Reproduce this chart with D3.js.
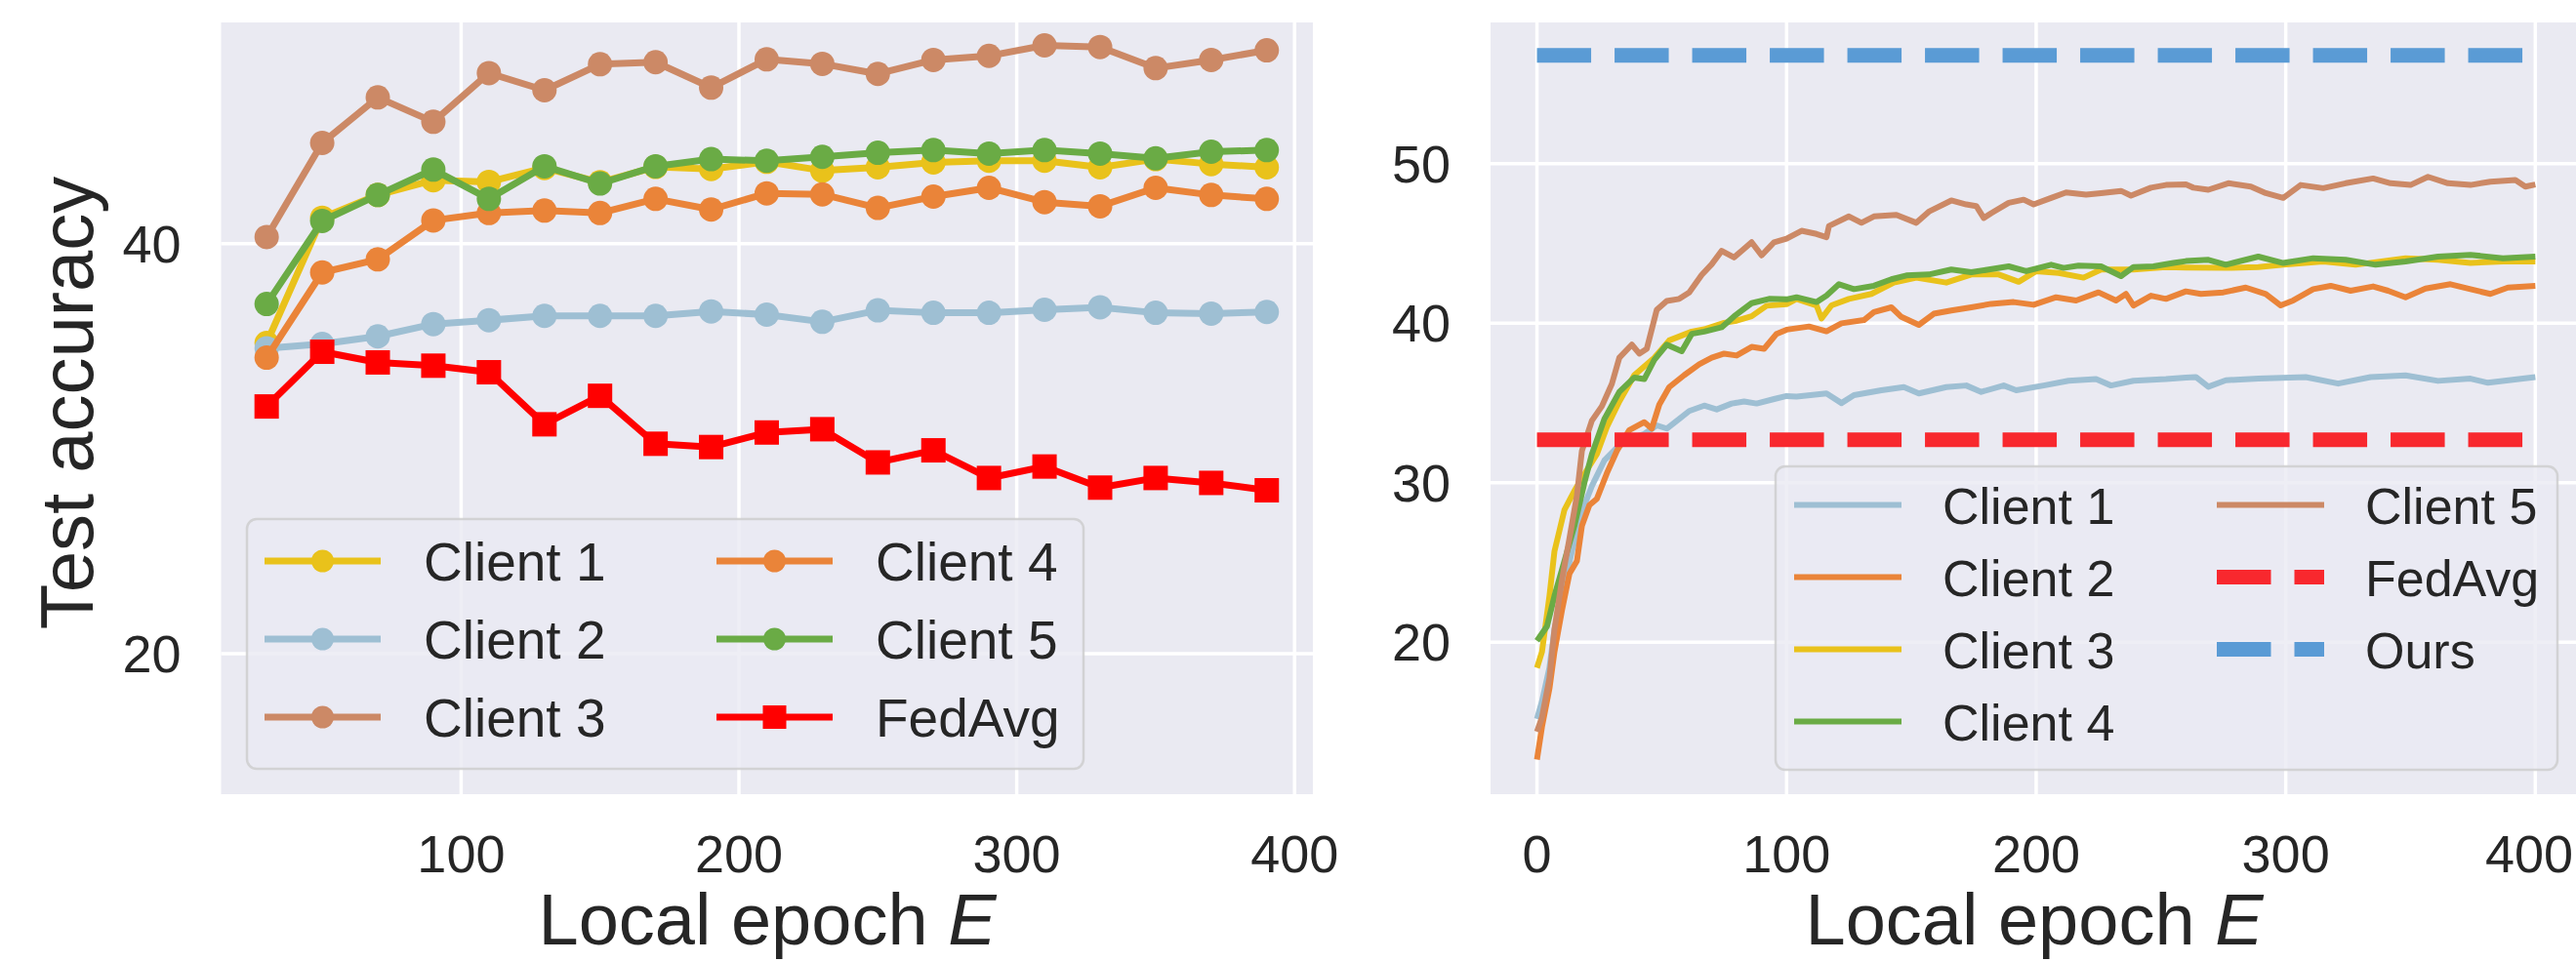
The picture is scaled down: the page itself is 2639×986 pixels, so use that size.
<!DOCTYPE html>
<html>
<head>
<meta charset="utf-8">
<script src="https://cdn.jsdelivr.net/npm/d3@7"></script>
<style>
body{margin:0;background:#fff;}
text{font-family:"Liberation Sans",Arial,sans-serif;fill:#262626;}
</style>
</head>
<body>
<svg id="chart" width="2639" height="986"></svg>
<script>
// ---- left panel data (accuracy at each local epoch E) ----
var leftEpochs = [30,50,70,90,110,130,150,170,190,210,230,250,270,290,310,330,350,370,390];
var leftClient1 = [35.16,41.27,42.38,43.1,43.02,43.7,43.0,43.75,43.65,44.0,43.57,43.73,43.97,44.05,44.05,43.73,44.13,43.89,43.73];
var leftClient2 = [34.9,35.11,35.48,36.08,36.27,36.48,36.48,36.48,36.7,36.54,36.19,36.75,36.63,36.63,36.78,36.9,36.63,36.59,36.67];
var leftClient3 = [40.33,44.92,47.14,45.95,48.33,47.49,48.76,48.86,47.62,49.0,48.78,48.29,48.97,49.17,49.68,49.6,48.57,48.97,49.44];
var leftClient4 = [34.44,38.6,39.24,41.14,41.5,41.62,41.5,42.19,41.67,42.46,42.41,41.75,42.3,42.73,42.03,41.83,42.73,42.38,42.19];
var leftClient5 = [37.06,41.11,42.38,43.62,42.19,43.78,42.94,43.78,44.13,44.05,44.24,44.44,44.57,44.4,44.57,44.4,44.17,44.49,44.57];
var leftFedAvg  = [32.06,34.73,34.21,34.05,33.73,31.19,32.58,30.24,30.08,30.79,30.95,29.33,29.92,28.57,29.13,28.1,28.57,28.33,27.97];
var leftXTicks = [100,200,300,400];
var leftYTicks = [20,40];

// ---- right panel data: [epoch, accuracy] ----
var rightClient1 = [[0,15.2],[2,16.3],[5,18.4],[7,20.8],[10,22.9],[14,25.7],[18,28.2],[22,29.8],[27,31.4],[32,32.2],[37,32.75],[43,33.06],[48,33.6],[52,33.4],[57,34.0],[61,34.5],[67,34.84],[72,34.6],[78,34.97],[83,35.1],[88,34.97],[95,35.25],[100,35.44],[104,35.41],[116,35.6],[122,35.0],[127,35.5],[138,35.8],[147,36.0],[153,35.6],[164,36.0],[172,36.1],[178,35.7],[187,36.1],[192,35.8],[203,36.1],[213,36.4],[224,36.5],[230,36.1],[239,36.4],[252,36.5],[260,36.6],[264,36.63],[269,36.02],[276,36.43],[289,36.53],[308,36.63],[321,36.22],[334,36.63],[348,36.73],[361,36.39],[374,36.53],[381,36.27],[400,36.63]];
var rightClient2 = [[0,12.65],[2,14.7],[5,17.1],[7,19.4],[10,22.0],[13,24.3],[16,25.1],[18,27.3],[21,28.6],[24,29.0],[28,30.6],[32,32.0],[37,33.3],[43,33.8],[46,33.4],[49,34.9],[53,36.0],[59,36.75],[65,37.43],[70,37.84],[75,38.1],[80,37.98],[86,38.52],[91,38.4],[96,39.34],[100,39.6],[109,39.8],[116,39.5],[122,40.0],[131,40.2],[135,40.7],[142,41.0],[146,40.4],[153,39.9],[159,40.6],[166,40.8],[174,41.0],[182,41.22],[191,41.33],[199,41.16],[208,41.63],[216,41.43],[225,41.94],[232,41.43],[236,41.84],[239,41.12],[246,41.73],[252,41.53],[260,42.0],[266,41.84],[275,41.94],[284,42.24],[292,41.84],[298,41.12],[303,41.43],[311,42.14],[318,42.35],[326,42.04],[335,42.31],[341,42.04],[348,41.63],[356,42.18],[366,42.45],[374,42.14],[382,41.84],[389,42.24],[400,42.35]];
var rightClient3 = [[0,18.4],[2,19.4],[5,22.9],[7,25.7],[11,28.3],[15,29.5],[20,30.8],[24,31.8],[28,33.5],[33,35.1],[39,36.75],[47,37.84],[53,38.93],[62,39.48],[67,39.62],[75,40.03],[80,40.16],[86,40.44],[92,41.1],[100,41.2],[104,41.53],[112,41.12],[114,40.3],[118,41.12],[125,41.53],[134,41.84],[143,42.55],[152,42.86],[164,42.55],[174,43.06],[185,43.06],[193,42.6],[200,43.27],[209,43.16],[219,42.86],[226,43.37],[239,43.37],[252,43.53],[260,43.5],[276,43.47],[289,43.53],[299,43.67],[315,43.88],[328,43.67],[348,44.08],[361,43.98],[374,43.78],[387,43.88],[400,43.88]];
var rightClient4 = [[0,20.1],[4,21.0],[7,22.9],[11,25.1],[15,27.3],[19,30.0],[22,31.8],[27,34.0],[33,35.7],[39,36.6],[43,36.5],[47,37.7],[52,38.66],[58,38.25],[62,39.34],[67,39.48],[74,39.75],[79,40.44],[86,41.26],[93,41.53],[100,41.5],[104,41.63],[112,41.33],[116,41.73],[121,42.45],[127,42.14],[135,42.35],[142,42.76],[148,43.0],[157,43.06],[166,43.37],[174,43.2],[181,43.37],[189,43.57],[196,43.27],[206,43.67],[211,43.47],[217,43.61],[226,43.57],[234,42.96],[239,43.53],[247,43.57],[255,43.78],[260,43.9],[269,43.98],[276,43.67],[289,44.18],[299,43.78],[311,44.08],[324,43.98],[336,43.67],[348,43.88],[361,44.18],[374,44.29],[387,44.08],[400,44.18]];
var rightClient5 = [[0,14.4],[2,15.3],[5,17.76],[7,20.8],[10,23.9],[13,26.5],[16,29.2],[18,32.0],[22,33.9],[26,34.8],[30,36.2],[33,37.84],[38,38.66],[41,38.1],[44,38.4],[48,40.85],[52,41.4],[57,41.53],[61,41.94],[66,43.03],[70,43.7],[74,44.54],[79,44.13],[86,45.08],[90,44.26],[95,45.08],[100,45.3],[106,45.8],[112,45.6],[116,45.4],[117,46.1],[125,46.7],[130,46.3],[135,46.7],[144,46.8],[152,46.3],[157,47.0],[166,47.7],[172,47.45],[176,47.35],[179,46.6],[182,46.9],[189,47.55],[195,47.75],[199,47.45],[206,47.86],[212,48.2],[220,48.06],[226,48.16],[234,48.3],[238,48.0],[246,48.5],[252,48.67],[260,48.7],[263,48.5],[269,48.37],[277,48.78],[286,48.57],[292,48.16],[299,47.86],[306,48.67],[315,48.47],[324,48.78],[335,49.08],[342,48.78],[350,48.67],[357,49.18],[365,48.78],[374,48.67],[382,48.88],[392,48.98],[396,48.57],[400,48.7]];
var rightFedAvg = [[0,32.7],[400,32.7]];
var rightOurs = [[0,56.8],[400,56.8]];
var rightXTicks = [0,100,200,300,400];
var rightYTicks = [20,30,40,50];

var colors = {
	lightblue:"#9ebfd3", orange:"#ea8439", yellow:"#e9c21b",
	green:"#6aab45", brown:"#cc8966", red:"#ff0000",
	dashRed:"#f8282e", dashBlue:"#5a9bd5"
};

var W = 2639, H = 986;
var svg = d3.select("#chart");
svg.append("rect").attr("width",W).attr("height",H).attr("fill","#fff");

function panel(o){
	var g = svg.append("g");
	var x = o.x, y = o.y;
	var r = x.range(), ry = y.range();
	g.append("rect").attr("x",r[0]).attr("y",ry[1]).attr("width",r[1]-r[0]).attr("height",ry[0]-ry[1]).attr("fill","#eaeaf2");
	// grid
	g.selectAll(".gx").data(o.xTicks).enter().append("line")
		.attr("x1",function(d){return x(d);}).attr("x2",function(d){return x(d);})
		.attr("y1",ry[1]).attr("y2",ry[0]).attr("stroke","#fff").attr("stroke-width",3.5);
	g.selectAll(".gy").data(o.yTicks).enter().append("line")
		.attr("x1",r[0]).attr("x2",r[1])
		.attr("y1",function(d){return y(d);}).attr("y2",function(d){return y(d);})
		.attr("stroke","#fff").attr("stroke-width",3.5);
	// tick labels (kept inside the picture at the right edge)
	g.selectAll(".tx").data(o.xTicks).enter().append("text")
		.attr("x",function(d){return Math.min(x(d), W-48);}).attr("y",894)
		.attr("text-anchor","middle").attr("font-size",54).text(function(d){return d;});
	g.selectAll(".ty").data(o.yTicks).enter().append("text")
		.attr("x",r[0]-41).attr("y",function(d){return y(d)+19;})
		.attr("text-anchor","end").attr("font-size",54).text(function(d){return d;});
	// x label
	var xl = g.append("text").attr("x",o.labelX).attr("y",968)
		.attr("text-anchor","middle").attr("font-size",74);
	xl.append("tspan").text("Local epoch ");
	xl.append("tspan").attr("font-style","italic").text("E");
	return g;
}

// ---- left panel ----
var xL = d3.scaleLinear().domain([13.6,406.6]).range([226.5,1345]);
var yL = d3.scaleLinear().domain([13.14,50.8]).range([814,23]);
var gL = panel({x:xL,y:yL,xTicks:leftXTicks,yTicks:leftYTicks,labelX:786});
gL.append("text").attr("transform","translate(95,413) rotate(-90)")
	.attr("text-anchor","middle").attr("font-size",76).text("Test accuracy");

var leftSeries = [
	{name:"Client 1",vals:leftClient1,color:colors.yellow,marker:"o"},
	{name:"Client 2",vals:leftClient2,color:colors.lightblue,marker:"o"},
	{name:"Client 3",vals:leftClient3,color:colors.brown,marker:"o"},
	{name:"Client 4",vals:leftClient4,color:colors.orange,marker:"o"},
	{name:"Client 5",vals:leftClient5,color:colors.green,marker:"o"},
	{name:"FedAvg",vals:leftFedAvg,color:colors.red,marker:"s"}
];
var lineL = d3.line().x(function(d,i){return xL(leftEpochs[i]);}).y(function(d){return yL(d);});
leftSeries.forEach(function(s){
	gL.append("path").attr("d",lineL(s.vals)).attr("fill","none").attr("stroke",s.color)
		.attr("stroke-width",7).attr("stroke-linejoin","round");
	if(s.marker=="o"){
		gL.selectAll(null).data(s.vals).enter().append("circle")
			.attr("cx",function(d,i){return xL(leftEpochs[i]);}).attr("cy",function(d){return yL(d);})
			.attr("r",12.5).attr("fill",s.color);
	}else{
		gL.selectAll(null).data(s.vals).enter().append("rect")
			.attr("x",function(d,i){return xL(leftEpochs[i])-12.5;}).attr("y",function(d){return yL(d)-12.5;})
			.attr("width",25).attr("height",25).attr("fill",s.color);
	}
});

// left legend
var legL = gL.append("g");
legL.append("rect").attr("x",253).attr("y",532).attr("width",857).attr("height",256).attr("rx",10)
	.attr("fill","#eaeaf2").attr("fill-opacity",0.8).attr("stroke","#cccccc").attr("stroke-opacity",0.8).attr("stroke-width",2.5);
leftSeries.forEach(function(s,i){
	var cx = [271,734][Math.floor(i/3)], cy = 575 + 80*(i%3);
	legL.append("line").attr("x1",cx).attr("x2",cx+119).attr("y1",cy).attr("y2",cy)
		.attr("stroke",s.color).attr("stroke-width",7);
	if(s.marker=="o") legL.append("circle").attr("cx",cx+59.5).attr("cy",cy).attr("r",11.5).attr("fill",s.color);
	else legL.append("rect").attr("x",cx+47.5).attr("y",cy-12).attr("width",24).attr("height",24).attr("fill",s.color);
	legL.append("text").attr("x",cx+163).attr("y",cy+20).attr("font-size",55).text(s.name);
});

// ---- right panel ----
var xR = d3.scaleLinear().domain([-18.6,418.6]).range([1527,2644.9]);
var yR = d3.scaleLinear().domain([10.48,58.86]).range([814,23]);
var gR = panel({x:xR,y:yR,xTicks:rightXTicks,yTicks:rightYTicks,labelX:2084});

var rightSeries = [
	{name:"Client 1",vals:rightClient1,color:colors.lightblue},
	{name:"Client 2",vals:rightClient2,color:colors.orange},
	{name:"Client 3",vals:rightClient3,color:colors.yellow},
	{name:"Client 4",vals:rightClient4,color:colors.green},
	{name:"Client 5",vals:rightClient5,color:colors.brown},
	{name:"FedAvg",vals:rightFedAvg,color:colors.dashRed,dash:true},
	{name:"Ours",vals:rightOurs,color:colors.dashBlue,dash:true}
];
var lineR = d3.line().x(function(d){return xR(d[0]);}).y(function(d){return yR(d[1]);});
rightSeries.forEach(function(s){
	var p = gR.append("path").attr("d",lineR(s.vals)).attr("fill","none").attr("stroke",s.color)
		.attr("stroke-linejoin","round");
	if(s.dash) p.attr("stroke-width",15).attr("stroke-dasharray","55.5,24");
	else p.attr("stroke-width",6);
});

var legR = gR.append("g");
legR.append("rect").attr("x",1819).attr("y",478).attr("width",801).attr("height",311).attr("rx",10)
	.attr("fill","#eaeaf2").attr("fill-opacity",0.8).attr("stroke","#cccccc").attr("stroke-opacity",0.8).attr("stroke-width",2.5);
rightSeries.forEach(function(s,i){
	var col = i<4 ? 0 : 1, row = i<4 ? i : i-4;
	var cx = [1838,2271][col], cy = 517.5 + 74*row;
	var l = legR.append("line").attr("x1",cx).attr("x2",cx+110).attr("y1",cy).attr("y2",cy).attr("stroke",s.color);
	if(s.dash) l.attr("stroke-width",15).attr("stroke-dasharray","55.5,24");
	else l.attr("stroke-width",6);
	legR.append("text").attr("x",cx+152).attr("y",cy+19).attr("font-size",52).text(s.name);
});
</script>
</body>
</html>
